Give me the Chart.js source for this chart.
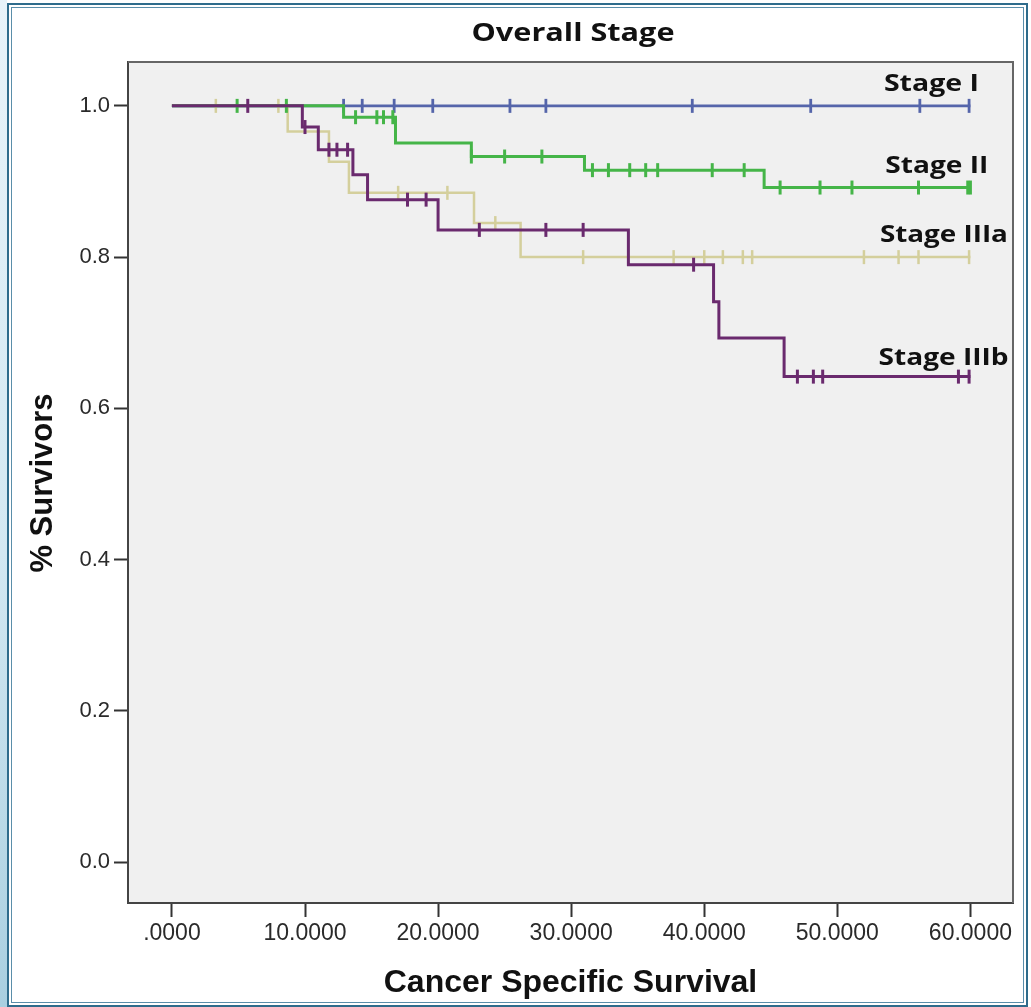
<!DOCTYPE html>
<html>
<head>
<meta charset="utf-8">
<title>Overall Stage</title>
<script src="https://cdn.jsdelivr.net/npm/chart.js@4/dist/chart.umd.min.js"></script>
<style>
body { margin: 0; background: #fff; }
#wrap { position: relative; width: 1031px; height: 1007px; overflow: hidden; background: #fff; }
#km { position: absolute; left: 0; top: 0; }
#edge { position: absolute; left: 0; top: 0; width: 7px; height: 1007px; background: linear-gradient(#e8f3f9, #d3e8f2 55%, #a9cfe0); }
#frame { position: absolute; left: 7px; top: 3px; width: 1021px; height: 1004px; border: 2px solid #2f6c8c; box-sizing: border-box; }
#frame2 { position: absolute; left: 11px; top: 7px; width: 1013px; height: 996px; border: 1px solid #5a8eaa; box-sizing: border-box; }
</style>
</head>
<body>
<div id="wrap">
  <canvas id="km" width="1031" height="1007"></canvas>
  <div id="edge"></div>
  <div id="frame"></div>
  <div id="frame2"></div>
</div>
<script>
// axis ticks
const xTicks = [0, 10, 20, 30, 40, 50, 60];
const yTicks = [0, 0.2, 0.4, 0.6, 0.8, 1.0];
const stageNames = ['Stage I', 'Stage II', 'Stage IIIa', 'Stage IIIb'];

// KM steps: time of each drop and survival after it, plus censored times
const stage1Time = [0, 60];
const stage1Surv = [1, 1];
const stage1Cens = [12.9, 14.3, 16.7, 19.6, 25.4, 28.1, 39.1, 48.0, 56.2, 59.9];

const stage2Time = [0, 12.9, 16.8, 22.5, 31.0, 44.5, 60];
const stage2Surv = [1, 0.985, 0.951, 0.933, 0.915, 0.892, 0.892];
const stage2Cens = [4.9, 8.6, 13.8, 15.4, 15.9, 16.6, 22.5, 25.0, 27.8, 31.6, 32.8, 34.4, 35.6, 36.5, 40.6, 43.0, 45.7, 48.7, 51.1, 56.1, 59.8, 60];

const stage3aTime = [0, 8.7, 11.8, 13.3, 22.7, 26.2, 60];
const stage3aSurv = [1, 0.966, 0.926, 0.885, 0.845, 0.800, 0.800];
const stage3aCens = [3.3, 8.0, 17.0, 20.7, 24.3, 30.9, 37.7, 40.0, 41.4, 42.9, 43.6, 52.0, 54.6, 56.1, 59.9];

const stage3bTime = [0, 9.8, 11.0, 13.6, 14.7, 20.0, 34.3, 40.7, 41.1, 46.0, 60];
const stage3bSurv = [1, 0.972, 0.942, 0.909, 0.876, 0.836, 0.790, 0.741, 0.693, 0.642, 0.642];
const stage3bCens = [5.7, 10.0, 11.8, 12.4, 13.2, 17.7, 19.1, 23.1, 28.1, 30.9, 39.2, 47.0, 48.2, 48.9, 59.1, 59.9];

// level of the step curve at time t
function survAt(time, surv, t) {
    let s = surv[0];
    for (let i = 0; i < time.length; i++) {
        if (time[i] <= t) s = surv[i];
    }
    return s;
}

function kmSets(time, surv, cens, color, width) {
    return [
        {
            data: time.map((t, i) => ({x: t, y: surv[i]})),
            borderColor: color,
            borderWidth: width,
            stepped: 'before',
            pointRadius: 0,
            fill: false
        },
        {
            data: cens.map(t => ({x: t, y: survAt(time, surv, t)})),
            showLine: false,
            pointStyle: 'line',
            rotation: 90,
            pointRadius: 7,
            borderColor: color,
            backgroundColor: color,
            pointBorderWidth: width
        }
    ];
}

// purple on top, blue at the bottom
const datasets = [
    ...kmSets(stage3bTime, stage3bSurv, stage3bCens, '#6a2a6e', 3),
    ...kmSets(stage2Time, stage2Surv, stage2Cens, '#45b548', 3),
    ...kmSets(stage3aTime, stage3aSurv, stage3aCens, '#d4cf9c', 2.5),
    ...kmSets(stage1Time, stage1Surv, stage1Cens, '#5565aa', 2.8)
];

function fitText(ctx, str, x, y, font, w, align) {
    ctx.font = font;
    const k = w / ctx.measureText(str).width;
    ctx.save();
    ctx.translate(x, y);
    ctx.scale(k, 1);
    ctx.textAlign = align;
    ctx.textBaseline = 'alphabetic';
    ctx.fillText(str, 0, 0);
    ctx.restore();
}

const decor = {
    id: 'decor',
    beforeDraw(chart) {
        const {ctx, chartArea: a} = chart;
        ctx.save();
        ctx.fillStyle = '#f0f0f0';
        ctx.fillRect(a.left, a.top, a.right - a.left, a.bottom - a.top);
        ctx.restore();
    },
    afterDraw(chart) {
        const {ctx, chartArea: a, scales: {x, y}} = chart;
        ctx.save();
        // top and right edge of the plot frame
        ctx.strokeStyle = '#666';
        ctx.lineWidth = 2;
        ctx.beginPath();
        ctx.moveTo(a.left, a.top);
        ctx.lineTo(a.right, a.top);
        ctx.lineTo(a.right, a.bottom);
        ctx.stroke();

        ctx.fillStyle = '#111';
        fitText(ctx, 'Overall Stage', 573, 41, 'bold 25px "Open Sans"', 203, 'center');

        // stage labels near the right end of each curve
        const lx = [53.5, 53.6, 53.2, 53.1];
        const ly = [1.019, 0.911, 0.820, 0.657];
        const lw = [95, 103, 128, 130];
        stageNames.forEach((n, i) => {
            fitText(ctx, n, x.getPixelForValue(lx[i]), y.getPixelForValue(ly[i]), 'bold 24px "Open Sans"', lw[i], 'left');
        });

        ctx.font = 'bold 32px "Liberation Sans", Arial, sans-serif';
        ctx.textAlign = 'center';
        ctx.textBaseline = 'alphabetic';
        ctx.fillText('Cancer Specific Survival', (a.left + a.right) / 2, 992);

        ctx.translate(52, 483);
        ctx.rotate(-Math.PI / 2);
        ctx.font = 'bold 31px "Liberation Sans", Arial, sans-serif';
        ctx.fillText('% Survivors', 0, 0);
        ctx.restore();
    }
};

const tickFont = {family: '"Liberation Sans", Arial, sans-serif', size: 22};

new Chart(document.getElementById('km'), {
    type: 'line',
    data: {datasets: datasets},
    options: {
        responsive: false,
        animation: false,
        layout: {padding: {top: 62, right: 18, left: 0, bottom: 0}},
        plugins: {legend: {display: false}, tooltip: {enabled: false}},
        scales: {
            x: {
                type: 'linear',
                min: -3.3,
                max: 63.2,
                afterBuildTicks: s => { s.ticks = xTicks.map(v => ({value: v})); },
                afterFit: s => { s.height = 104; },
                ticks: {
                    font: {family: tickFont.family, size: 23},
                    color: '#2a2a2a',
                    padding: 3,
                    maxRotation: 0,
                    callback: v => v === 0 ? '.0000' : v.toFixed(4)
                },
                grid: {drawOnChartArea: false, tickLength: 14, tickColor: '#333', tickWidth: 2},
                border: {color: '#444', width: 2}
            },
            y: {
                type: 'linear',
                min: -0.054,
                max: 1.058,
                afterBuildTicks: s => { s.ticks = yTicks.map(v => ({value: v})); },
                afterFit: s => { s.width = 128; },
                ticks: {
                    font: tickFont,
                    color: '#2a2a2a',
                    padding: 4,
                    callback: v => v.toFixed(1)
                },
                grid: {drawOnChartArea: false, tickLength: 14, tickColor: '#333', tickWidth: 2},
                border: {color: '#444', width: 2}
            }
        }
    },
    plugins: [decor]
});
</script>
</body>
</html>
